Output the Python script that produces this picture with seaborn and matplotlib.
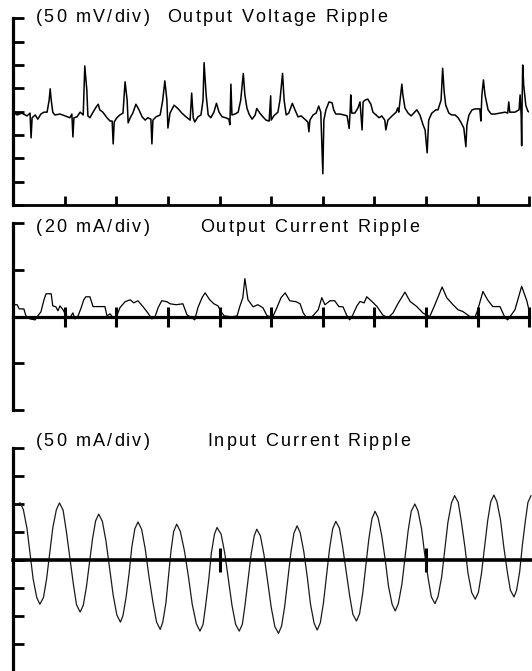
import numpy as np
import seaborn as sns
import matplotlib.pyplot as plt
from matplotlib import font_manager, ft2font

# ---- data (time in divisions) ----
# output voltage ripple, mV (50 mV/div)
vout_t = [0.00, 0.08, 0.17, 0.27, 0.33, 0.35, 0.37, 0.43, 0.48, 0.54,
          0.60, 0.66, 0.70, 0.72, 0.74, 0.77, 0.81, 0.91, 1.01, 1.10,
          1.14, 1.16, 1.18, 1.24, 1.30, 1.36, 1.39, 1.43, 1.45, 1.49,
          1.55, 1.61, 1.65, 1.68, 1.74, 1.82, 1.88, 1.92, 1.94, 1.96,
          2.01, 2.07, 2.13, 2.17, 2.21, 2.23, 2.27, 2.32, 2.38, 2.44,
          2.50, 2.56, 2.61, 2.67, 2.69, 2.71, 2.77, 2.85, 2.90, 2.94,
          2.98, 3.00, 3.04, 3.12, 3.20, 3.27, 3.35, 3.43,
          3.46, 3.49, 3.52, 3.58, 3.64, 3.68, 3.70, 3.74, 3.78, 3.83,
          3.89, 3.94, 3.99, 4.05, 4.12, 4.18, 4.20, 4.22, 4.24, 4.30,
          4.36, 4.41, 4.46, 4.49, 4.53, 4.57, 4.63, 4.69, 4.72, 4.78,
          4.84, 4.90, 4.96, 4.99, 5.00, 5.05, 5.13, 5.17, 5.22, 5.25,
          5.29, 5.34, 5.41, 5.46, 5.52, 5.58, 5.62, 5.67, 5.71, 5.73,
          5.75, 5.81, 5.87, 5.92, 5.96, 6.00, 6.02, 6.06, 6.12, 6.18,
          6.21, 6.25, 6.33, 6.41, 6.47, 6.51, 6.53, 6.54, 6.56, 6.62,
          6.68, 6.72, 6.76, 6.78, 6.82, 6.87, 6.93, 6.97, 7.03, 7.09,
          7.14, 7.20, 7.22, 7.26, 7.34, 7.42, 7.45, 7.47, 7.53, 7.55,
          7.59, 7.65, 7.71, 7.76, 7.82, 7.88, 7.94, 7.98, 8.02, 8.05,
          8.11, 8.19, 8.23, 8.29, 8.32, 8.35, 8.38, 8.44, 8.50, 8.56,
          8.62, 8.67, 8.73, 8.77, 8.79, 8.83, 8.89, 8.95, 9.04, 9.06,
          9.08, 9.11, 9.14, 9.20, 9.26, 9.33, 9.43, 9.53, 9.58, 9.60,
          9.62, 9.72, 9.80, 9.82, 9.84, 9.85, 9.86, 9.87, 9.89, 9.93,
          9.97, 10.00]
vout_mv = [-1, -7, -3, -9, -3, -56, -13, -7, -16, -5,
           -1, -1, 25, 49, 25, -1, -7, -5, -9, -13,
           -5, -54, -13, -11, -1, -7, 98, 46, -9, -13,
           -1, 10, 16, 4, -1, -13, -20, -20, -69, -22,
           -13, -7, -3, 64, 25, -24, -13, -3, 16, 4,
           -11, -18, -13, -16, -69, -18, -11, -7, 25, 66,
           25, -35, -3, 14, 6, -3, -11, -18,
           40, -13, -22, -11, -7, 25, 105, 36, -7, -13,
           -1, 18, -1, -11, -13, -16, -28, 59, -7, -5,
           -1, 25, 82, 36, 8, -5, -16, -7, 7, -3,
           -11, -18, -20, 34, -18, -9, -1, 25, 82, 25,
           -7, -3, 18, 4, -11, -9, -13, -18, -22, -43,
           -18, -7, -3, 12, -1, -133, -18, 4, 21, 19,
           4, -5, -5, -7, -9, -36, 4, 36, -3, -3,
           8, 21, -39, 21, 25, 27, 16, -1, -7, -13,
           -9, -18, -39, -18, -9, -1, 8, -1, 59, 36,
           8, -3, -9, -3, 4, -7, -28, -39, -88, -18,
           -3, 4, 4, 25, 93, 42, 14, -3, -7, -7,
           -13, -22, -35, -75, -28, -7, 4, 6, 6, -20,
           36, 68, 36, 4, -5, -5, -3, -1, -3, 21,
           -1, -1, 4, 36, -7, -73, 25, 100, 57, 14,
           1, -1]

# output current ripple, mA (20 mA/div)
iout_t = [0.00, 0.08, 0.12, 0.21, 0.25, 0.33, 0.43, 0.48, 0.54, 0.60,
          0.64, 0.74, 0.77, 0.83, 0.87, 0.91, 0.97, 1.03, 1.10, 1.16,
          1.20, 1.26, 1.32, 1.37, 1.41, 1.49, 1.55, 1.78, 1.82, 1.88,
          1.94, 2.01, 2.07, 2.17, 2.27, 2.34, 2.42, 2.52, 2.61, 2.69,
          2.75, 2.81, 2.88, 2.98, 3.04, 3.16, 3.29, 3.37, 3.47, 3.52,
          3.58, 3.66, 3.72, 3.81, 3.89, 3.97, 4.03, 4.09, 4.24, 4.34,
          4.39, 4.45, 4.49, 4.55, 4.65, 4.74, 4.84, 4.92, 5.03, 5.11,
          5.19, 5.27, 5.36, 5.48, 5.56, 5.62, 5.69, 5.79, 5.91, 5.98,
          6.04, 6.14, 6.23, 6.31, 6.39, 6.46, 6.52, 6.58, 6.66, 6.72,
          6.80, 6.85, 6.95, 7.05, 7.16, 7.26, 7.36, 7.45, 7.59, 7.69,
          7.82, 7.94, 8.07, 8.17, 8.31, 8.40, 8.52, 8.62, 8.71, 8.85,
          8.95, 9.00, 9.10, 9.19, 9.29, 9.43, 9.53, 9.58, 9.72, 9.85,
          9.95, 10.00]
iout_ma = [5.1, 5.1, 3.3, 3.3, 0.3, -1.0, -1.4, 0.3, 2.0, 7.2,
           9.8, 9.8, 4.6, 4.2, 2.5, 4.6, 2.9, 0.3, -0.6, 1.6,
           -1.0, 0.3, 3.8, 7.2, 8.5, 8.5, 4.3, 4.3, 0.3, 1.2,
           -0.6, 0.3, 3.8, 6.4, 7.2, 5.9, 6.8, 4.2, 1.6, -1.0,
           -0.1, 3.8, 6.8, 6.4, 5.5, 5.1, 5.5, 0.7, -0.6, -1.4,
           3.8, 8.1, 10.2, 7.2, 5.5, 4.6, 2.0, 0.3, -0.1, 0.3,
           4.2, 8.1, 16.3, 7.2, 4.2, 5.1, 3.8, 0.3, -0.1, 3.8,
           8.1, 10.2, 6.8, 6.4, 5.5, 1.6, -0.6, -0.1, 2.9, 8.1,
           5.1, 6.8, 6.8, 4.3, 4.2, 0.7, -1.4, 0.7, 4.6, 6.5,
           5.9, 8.5, 6.5, 4.3, 0.7, -0.6, 1.6, 5.4, 10.5, 6.5,
           4.3, 1.5, 0.0, 5.1, 12.7, 8.1, 5.1, 2.9, 2.2, 0.0,
           0.0, 2.9, 10.8, 7.2, 4.3, 4.3, -0.6, -1.4, 2.9, 13.0,
           6.8, 2.0]

# input current ripple, mA (50 mA/div), one row per half cycle
iin_t = [0.00, 0.07, 0.14,
         0.20, 0.27, 0.33, 0.39, 0.46, 0.52,
         0.59, 0.65, 0.71, 0.77, 0.84, 0.90,
         0.97, 1.03, 1.10, 1.17, 1.23, 1.30,
         1.36, 1.42, 1.48, 1.54, 1.60, 1.66,
         1.73, 1.80, 1.87, 1.94, 2.01, 2.08,
         2.13, 2.19, 2.25, 2.30, 2.36, 2.42,
         2.49, 2.56, 2.63, 2.71, 2.78, 2.85,
         2.90, 2.96, 3.01, 3.06, 3.11, 3.17,
         3.24, 3.32, 3.40, 3.47, 3.55, 3.62,
         3.68, 3.73, 3.79, 3.84, 3.90, 3.95,
         4.03, 4.10, 4.17, 4.24, 4.31, 4.38,
         4.44, 4.49, 4.55, 4.61, 4.67, 4.72,
         4.79, 4.86, 4.93, 5.00, 5.07, 5.14,
         5.20, 5.26, 5.32, 5.38, 5.44, 5.50,
         5.56, 5.63, 5.70, 5.76, 5.83, 5.89,
         5.95, 6.01, 6.07, 6.13, 6.19, 6.25,
         6.32, 6.38, 6.45, 6.52, 6.58, 6.65,
         6.71, 6.77, 6.83, 6.89, 6.95, 7.01,
         7.07, 7.14, 7.21, 7.27, 7.34, 7.40,
         7.46, 7.53, 7.59, 7.65, 7.71, 7.78,
         7.84, 7.91, 7.97, 8.04, 8.10, 8.17,
         8.23, 8.30, 8.36, 8.42, 8.49, 8.55,
         8.62, 8.68, 8.75, 8.81, 8.88, 8.95,
         9.01, 9.07, 9.13, 9.19, 9.25, 9.31,
         9.37, 9.44, 9.50, 9.57, 9.63, 9.70,
         9.75, 9.81, 9.86, 9.92, 9.97, 10.03]
iin_ma = [95, 100, 102,
          90, 57, 12, -34, -67, -79,
          -67, -34, 12, 57, 90, 102,
          89, 53, 5, -44, -80, -93,
          -81, -49, -6, 38, 70, 82,
          69, 34, -15, -63, -98, -111,
          -99, -66, -22, 23, 56, 68,
          55, 20, -28, -76, -111, -124,
          -111, -77, -30, 17, 51, 64,
          51, 16, -32, -79, -114, -127,
          -115, -81, -35, 12, 46, 58,
          46, 12, -35, -81, -115, -127,
          -115, -82, -36, 10, 43, 55,
          43, 9, -38, -85, -119, -131,
          -118, -83, -35, 13, 48, 61,
          49, 15, -32, -79, -113, -125,
          -112, -77, -28, 21, 56, 69,
          57, 25, -20, -65, -97, -109,
          -96, -60, -11, 38, 74, 87,
          75, 43, -2, -47, -79, -91,
          -78, -43, 5, 52, 87, 100,
          88, 56, 11, -34, -66, -78,
          -65, -30, 19, 67, 102, 115,
          103, 69, 23, -24, -58, -70,
          -58, -24, 23, 70, 104, 116,
          104, 71, 25, -21, -54, -66,
          -54, -21, 25, 70, 103, 115]

labels = [("(50 mV/div)", "Output Voltage Ripple"),
          ("(20 mA/div)", "Output Current Ripple"),
          ("(50 mA/div)", "Input Current Ripple")]

sns.set_style('ticks')
plt.rcParams['font.family'] = ['Liberation Sans', 'DejaVu Sans']

W, H = 532, 671
fig = plt.figure(figsize=(W / 100, H / 100), dpi=100)

FONT_PT = 13
TRACK = 2.2
fprop = font_manager.FontProperties(family='Liberation Sans', size=FONT_PT)
face = ft2font.FT2Font(font_manager.findfont(fprop), hinting_factor=1)
face.set_size(FONT_PT, fig.dpi)


def px_axes(left, top, right, bottom):
    return fig.add_axes([left / W, 1 - bottom / H, (right - left) / W, (bottom - top) / H])


def tracked_text(x_px, y_px, s):
    # the old scope captions are letter-spaced, so set them glyph by glyph
    x = x_px
    for ch in s:
        if ch != ' ':
            fig.text(x / W, 1 - y_px / H, ch, fontproperties=fprop,
                     ha='left', va='baseline', color='black')
        x += face.load_char(ord(ch)).linearHoriAdvance / 65536 + TRACK


def scope_axes(ax, lim, step, xmax=10):
    ax.set_xlim(0, xmax)
    ax.set_ylim(-lim, lim)
    ax.patch.set_visible(False)
    for s in ['top', 'right', 'bottom']:
        ax.spines[s].set_visible(False)
    ax.spines['left'].set_color('black')
    ax.spines['left'].set_linewidth(2.3)
    ax.set_yticks(np.arange(-lim, lim + step / 2, step))
    ax.tick_params(axis='y', direction='in', length=8, width=2, color='black',
                   left=True, labelleft=False)
    ax.tick_params(axis='x', labelbottom=False)
    ax.set_xlabel('')
    ax.set_ylabel('')


# panel 1: output voltage
ax1 = px_axes(13, 18.3, 529.4, 205.1)
sns.lineplot(x=vout_t, y=vout_mv, ax=ax1, color='black', lw=1.1,
             estimator=None, sort=False)
scope_axes(ax1, 200, 50)
ax1.spines['bottom'].set_visible(True)
ax1.spines['bottom'].set_color('black')
ax1.spines['bottom'].set_linewidth(2.0)
ax1.set_xticks(np.arange(1, 11))
ax1.tick_params(axis='x', direction='in', length=6.5, width=2, color='black', bottom=True)

# panel 2: output current
ax2 = px_axes(13, 223.4, 529.4, 409.8)
sns.lineplot(x=iout_t, y=iout_ma, ax=ax2, color='black', lw=0.9,
             estimator=None, sort=False)
scope_axes(ax2, 40, 20)
ax2.spines['bottom'].set_visible(True)
ax2.spines['bottom'].set_position(('data', 0))
ax2.spines['bottom'].set_color('black')
ax2.spines['bottom'].set_linewidth(2.3)
ax2.set_xticks(np.arange(1, 11))
ax2.tick_params(axis='x', direction='inout', length=14.5, width=2.2, color='black', bottom=True)

# panel 3: input current
ax3 = px_axes(13, 448, 532, 672)
sns.lineplot(x=iin_t, y=iin_ma, ax=ax3, color='#1a1a1a', lw=0.9,
             estimator=None, sort=False)
scope_axes(ax3, 200, 50, xmax=519 / 51.65)
ax3.spines['bottom'].set_visible(True)
ax3.spines['bottom'].set_position(('data', 0))
ax3.spines['bottom'].set_color('black')
ax3.spines['bottom'].set_linewidth(2.6)
ax3.set_xticks([4, 8])
ax3.tick_params(axis='x', direction='inout', length=17, width=2.2, color='black', bottom=True)

for ax in (ax1, ax2, ax3):
    leg = ax.get_legend()
    if leg is not None:
        leg.remove()

tracked_text(35.6, 22.5, labels[0][0])
tracked_text(167, 22.5, labels[0][1])
tracked_text(35.6, 232, labels[1][0])
tracked_text(200, 232, labels[1][1])
tracked_text(35.6, 446.5, labels[2][0])
tracked_text(207, 446.5, labels[2][1])

fig.savefig('out.png', dpi=100)
